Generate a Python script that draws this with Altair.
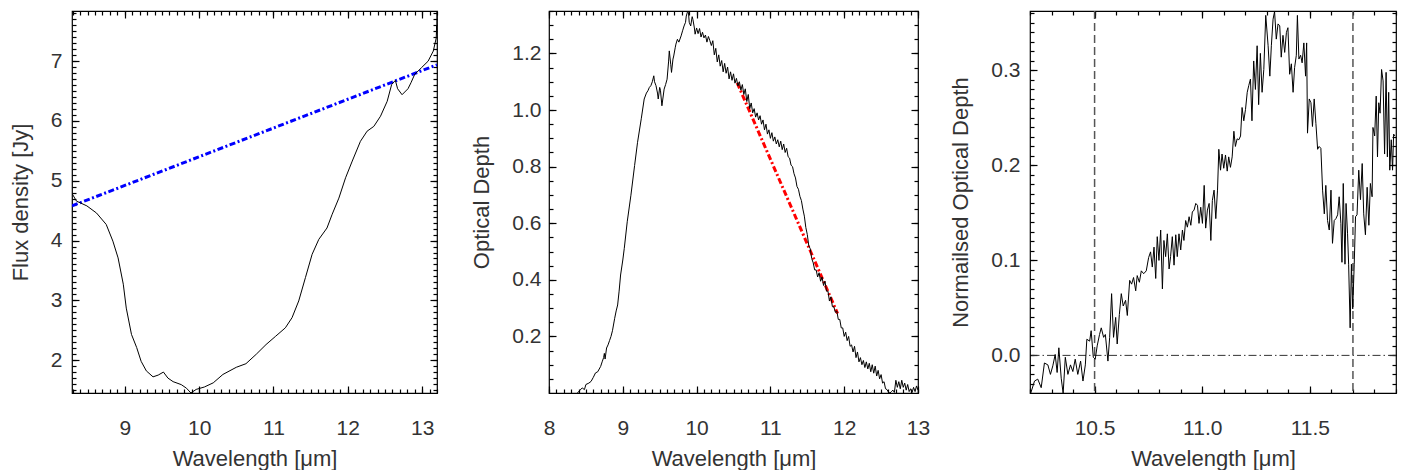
import altair as alt
import pandas as pd
import numpy as np

# ---------------- Panel 1: flux density ----------------
p1_x = [8.28, 8.35, 8.49, 8.62, 8.75, 8.84, 8.91, 8.98, 9.02, 9.09, 9.16, 9.22, 9.29, 9.38,
        9.45, 9.52, 9.58, 9.65, 9.76, 9.83, 9.89, 9.96, 10.07, 10.19, 10.32, 10.50, 10.63,
        10.77, 10.90, 11.03, 11.16, 11.25, 11.34, 11.43, 11.52, 11.61, 11.72, 11.79, 11.88,
        11.97, 12.06, 12.17, 12.26, 12.35, 12.44, 12.53, 12.59, 12.64, 12.67, 12.73, 12.81,
        12.85, 12.90, 12.99, 13.08, 13.15, 13.19, 13.195, 13.198, 13.2]
p1_y = [4.81, 4.66, 4.58, 4.46, 4.27, 3.99, 3.71, 3.27, 2.87, 2.43, 2.21, 1.98, 1.82, 1.72,
        1.75, 1.80, 1.70, 1.64, 1.59, 1.53, 1.45, 1.51, 1.55, 1.62, 1.76, 1.88, 1.94,
        2.10, 2.26, 2.40, 2.54, 2.71, 2.99, 3.38, 3.77, 4.02, 4.21, 4.44, 4.71,
        5.05, 5.33, 5.66, 5.83, 5.91, 6.08, 6.33, 6.61, 6.68, 6.54, 6.44, 6.54,
        6.64, 6.78, 6.89, 7.00, 7.17, 7.39, 7.60, 7.45, 7.84]
cont_x = [8.29, 13.2]
cont_y = [4.58, 6.94]

# ---------------- Panel 2: optical depth ----------------
p2_x = [8.385, 8.42, 8.45, 8.48, 8.50, 8.54, 8.57, 8.60, 8.63, 8.66, 8.70, 8.72, 8.74, 8.75,
        8.76, 8.78, 8.80, 8.82, 8.84, 8.86, 8.89, 8.91, 8.93, 8.95, 8.97, 9.00, 9.02, 9.06,
        9.11, 9.16, 9.20, 9.25, 9.29, 9.32, 9.34, 9.36, 9.38, 9.40, 9.42, 9.43, 9.45, 9.47,
        9.48, 9.50, 9.51, 9.53, 9.56, 9.58, 9.60, 9.62, 9.63, 9.65, 9.66, 9.68, 9.69, 9.71,
        9.72, 9.74, 9.76, 9.79, 9.81, 9.83, 9.85, 9.86, 9.88, 9.89, 9.90, 9.92, 9.94, 9.95,
        9.97, 9.98, 10.00,
        10.02, 10.04, 10.06, 10.08, 10.10, 10.12, 10.14, 10.16, 10.18, 10.20, 10.22, 10.24,
        10.26, 10.28, 10.30, 10.32, 10.34, 10.36, 10.38, 10.40, 10.42, 10.44, 10.46, 10.48,
        10.50, 10.52, 10.54, 10.56, 10.58, 10.60, 10.62, 10.64, 10.66, 10.68, 10.70, 10.72,
        10.74, 10.76, 10.78, 10.80, 10.82, 10.84, 10.86, 10.88, 10.90, 10.92, 10.94, 10.96,
        10.98, 11.00, 11.02, 11.04, 11.06, 11.08, 11.10, 11.12, 11.14, 11.16, 11.18, 11.20,
        11.22, 11.24, 11.26, 11.28, 11.30, 11.32, 11.34, 11.36, 11.38, 11.40, 11.42, 11.44,
        11.46, 11.48, 11.50, 11.52, 11.54, 11.56, 11.58, 11.60, 11.62, 11.64, 11.66, 11.68,
        11.70, 11.72, 11.74, 11.76, 11.78, 11.80, 11.82, 11.84, 11.86, 11.88, 11.90, 11.92,
        11.94, 11.96, 11.98, 12.00, 12.02, 12.04, 12.06, 12.08, 12.10, 12.12, 12.14, 12.16,
        12.18, 12.20, 12.22, 12.24, 12.26, 12.28, 12.30, 12.32, 12.34, 12.36, 12.38, 12.40,
        12.42, 12.44, 12.46, 12.48, 12.50, 12.52, 12.54, 12.56, 12.58, 12.60, 12.62, 12.64,
        12.66, 12.68, 12.70, 12.72, 12.74, 12.76, 12.78, 12.80, 12.82, 12.84, 12.86, 12.88,
        12.90, 12.92, 12.94, 12.96, 12.98, 13.00]
p2_y = [0.0, 0.01, 0.018, 0.012, 0.03, 0.035, 0.041, 0.055, 0.071, 0.075, 0.094, 0.11, 0.125, 0.14,
        0.12, 0.159, 0.17, 0.185, 0.20, 0.22, 0.264, 0.29, 0.311, 0.36, 0.417, 0.47, 0.511, 0.605,
        0.699, 0.804, 0.886, 0.969, 1.039, 1.06, 1.068, 1.08, 1.086, 1.10, 1.121, 1.10, 1.086, 1.06,
        1.039, 1.08, 1.07, 1.015, 1.074, 1.09, 1.109, 1.17, 1.209, 1.16, 1.133, 1.18, 1.191, 1.22,
        1.233, 1.250, 1.24, 1.262, 1.28, 1.297, 1.31, 1.332, 1.35, 1.344, 1.31, 1.297, 1.33, 1.32,
        1.29, 1.268, 1.29,
        1.27, 1.288, 1.258, 1.275, 1.255, 1.265, 1.24, 1.26, 1.245, 1.228, 1.245, 1.195,
        1.218, 1.17, 1.195, 1.155, 1.175, 1.135, 1.165, 1.13, 1.152, 1.11, 1.135, 1.105,
        1.128, 1.095, 1.112, 1.085, 1.1, 1.07, 1.09, 1.055, 1.075, 1.03, 1.055, 1.005,
        1.025, 0.99, 1.005, 0.975, 0.99, 0.965, 0.98, 0.95, 0.965, 0.93, 0.95, 0.915,
        0.93, 0.9, 0.92, 0.89, 0.905, 0.88, 0.895, 0.87, 0.89, 0.86, 0.88, 0.85,
        0.865, 0.835, 0.83, 0.805, 0.8, 0.775, 0.76, 0.73, 0.72, 0.695, 0.68, 0.65,
        0.625, 0.585, 0.56, 0.52, 0.51, 0.475, 0.46, 0.435, 0.435, 0.41, 0.425, 0.395,
        0.41, 0.38, 0.395, 0.36, 0.36, 0.325, 0.34, 0.305, 0.305, 0.285, 0.29, 0.26,
        0.26, 0.23, 0.23, 0.2, 0.215, 0.185, 0.2, 0.165, 0.17, 0.145, 0.165, 0.125,
        0.145, 0.11, 0.125, 0.1, 0.115, 0.09, 0.11, 0.085, 0.105, 0.075, 0.1, 0.07,
        0.095, 0.06, 0.08, 0.05, 0.065, 0.035, 0.04, 0.015, 0.012, 0.003, 0.0, 0.005,
        0.01, 0.002, 0.045, 0.02, 0.04, 0.015, 0.045, 0.02, 0.035, 0.01, 0.03, 0.005,
        0.015, 0.002, 0.02, 0.005, 0.025, 0.01]
fit_x = [10.55, 11.91]
fit_y = [1.096, 0.281]

# ---------------- Panel 3: normalised optical depth ----------------
p3_x = [10.203, 10.221, 10.236, 10.252, 10.267, 10.283, 10.295, 10.306, 10.317, 10.326, 10.334,
        10.345, 10.354, 10.364, 10.376, 10.388, 10.399, 10.410, 10.422, 10.435, 10.446, 10.457,
        10.464, 10.477, 10.484, 10.494, 10.503, 10.512, 10.523, 10.531, 10.542, 10.550, 10.562,
        10.570, 10.579, 10.588, 10.598, 10.605, 10.615, 10.624, 10.633, 10.644, 10.652, 10.663,
        10.672, 10.681, 10.691, 10.698, 10.708, 10.717, 10.728, 10.740, 10.751, 10.760, 10.768,
        10.776, 10.784, 10.791, 10.799, 10.807, 10.815, 10.822, 10.830, 10.838, 10.846, 10.853,
        10.861, 10.869, 10.877, 10.884, 10.892, 10.900, 10.908, 10.915, 10.923, 10.931, 10.939,
        10.947, 10.954, 10.962, 10.970, 10.978, 10.985, 10.993, 11.001, 11.009, 11.016, 11.024,
        11.032, 11.040, 11.047, 11.055, 11.063, 11.071, 11.077, 11.085, 11.092, 11.100, 11.108,
        11.116, 11.123, 11.131, 11.139, 11.147, 11.154, 11.162, 11.170, 11.178, 11.185, 11.193,
        11.201, 11.209, 11.216, 11.224, 11.231, 11.239, 11.247, 11.255, 11.262, 11.270, 11.278,
        11.286, 11.295, 11.306, 11.314, 11.321, 11.329, 11.336, 11.344, 11.352, 11.360, 11.367,
        11.375, 11.383, 11.391, 11.398, 11.406, 11.414, 11.422, 11.429, 11.437, 11.442, 11.449,
        11.457, 11.464, 11.472, 11.480, 11.485, 11.489, 11.497, 11.505, 11.512, 11.520, 11.528,
        11.536, 11.543, 11.551, 11.559, 11.567, 11.574, 11.582, 11.590, 11.598, 11.605, 11.613,
        11.621, 11.629, 11.636, 11.644, 11.649, 11.655, 11.663, 11.668, 11.675, 11.680, 11.687,
        11.693, 11.699, 11.706, 11.712, 11.719, 11.727, 11.735, 11.743, 11.750, 11.758, 11.766,
        11.774, 11.781, 11.789, 11.793, 11.801, 11.808, 11.814, 11.820, 11.826, 11.833, 11.840,
        11.847, 11.854, 11.860, 11.866, 11.871, 11.878, 11.884, 11.889, 11.895]
p3_y = [-0.040, -0.027, -0.025, -0.034, -0.008, -0.010, -0.020, -0.011, 0.001, -0.018, 0.008,
        -0.024, -0.040, -0.002, -0.020, -0.010, -0.017, -0.004, -0.020, -0.006, -0.027, -0.010,
        0.017, 0.015, 0.026, -0.002, -0.004, 0.010, 0.022, 0.029, 0.019, 0.022, -0.006,
        0.019, 0.065, 0.019, 0.040, 0.012, 0.043, 0.065, 0.052, 0.058, 0.042, 0.079,
        0.075, 0.082, 0.068, 0.084, 0.077, 0.089, 0.086, 0.089, 0.103, 0.109, 0.093,
        0.114, 0.081, 0.125, 0.100, 0.132, 0.070, 0.121, 0.104, 0.128, 0.091, 0.104,
        0.125, 0.095, 0.127, 0.104, 0.128, 0.111, 0.132, 0.121, 0.142, 0.135, 0.146,
        0.137, 0.151, 0.153, 0.160, 0.158, 0.139, 0.156, 0.139, 0.179, 0.134, 0.153,
        0.160, 0.121, 0.163, 0.174, 0.144, 0.174, 0.217, 0.195, 0.212, 0.197, 0.211,
        0.194, 0.209, 0.198, 0.209, 0.236, 0.220, 0.228, 0.227, 0.231, 0.261, 0.247,
        0.259, 0.277, 0.284, 0.291, 0.247, 0.310, 0.280, 0.326, 0.264, 0.318, 0.277,
        0.301, 0.358, 0.326, 0.294, 0.326, 0.354, 0.362, 0.333, 0.349, 0.347, 0.314,
        0.337, 0.319, 0.340, 0.345, 0.296, 0.307, 0.277, 0.303, 0.316, 0.358, 0.312,
        0.316, 0.308, 0.329, 0.294, 0.329, 0.234, 0.270, 0.266, 0.241, 0.270, 0.244,
        0.217, 0.220, 0.218, 0.174, 0.149, 0.179, 0.142, 0.132, 0.174, 0.118, 0.142,
        0.144, 0.148, 0.167, 0.139, 0.098, 0.181, 0.096, 0.160, 0.128, 0.096, 0.029,
        0.096, 0.049, 0.096, 0.146, 0.148, 0.195, 0.164, 0.202, 0.149, 0.127, 0.177,
        0.137, 0.181, 0.167, 0.240, 0.231, 0.273, 0.209, 0.266, 0.255, 0.301, 0.289,
        0.212, 0.298, 0.209, 0.277, 0.195, 0.227, 0.195, 0.233, 0.231]
vline_x = [10.5, 11.7]
hline_y = [0.0]

FONT = "Liberation Sans"
TXT = "#333333"
XTITLE = "Wavelength [\u03bcm]"
PH = 382
MAJ = 7
MIN = 4


def ticks_axis(orient, values, size):
    return alt.Axis(orient=orient, values=values, tickSize=size, offset=-size,
                    domain=False, grid=False, labels=False, title=None,
                    tickColor="black", tickWidth=1.2)


def rng(a, b, s):
    n = int(round((b - a) / s))
    return [round(a + i * s, 4) for i in range(n + 1)]


def panel(df, xdom, ydom, xmaj, xmin, ymaj, ymin, xfmt, yfmt, ytitle, width,
          ylabpad, ytitlepad, extras):
    xs = alt.Scale(domain=xdom, nice=False, zero=False)
    ys = alt.Scale(domain=ydom, nice=False, zero=False)
    base = alt.Chart(df)
    main = base.mark_line(color="black", strokeWidth=1, clip=True).encode(
        x=alt.X("x:Q", scale=xs, axis=alt.Axis(
            orient="bottom", values=xmaj, format=xfmt, tickSize=MAJ, offset=-MAJ,
            domain=False, grid=False, labelPadding=24, labelFlush=False,
            labelOverlap=False, title=XTITLE, titlePadding=10,
            tickColor="black", tickWidth=1.2)),
        y=alt.Y("y:Q", scale=ys, axis=alt.Axis(
            orient="left", values=ymaj, format=yfmt, tickSize=MAJ, offset=-MAJ,
            domain=False, grid=False, labelPadding=ylabpad, labelFlush=False,
            labelOverlap=False, title=ytitle, titlePadding=ytitlepad,
            tickColor="black", tickWidth=1.2)),
    )
    g1 = base.mark_line(opacity=0).encode(
        x=alt.X("x:Q", scale=xs, axis=ticks_axis("bottom", xmin, MIN)),
        y=alt.Y("y:Q", scale=ys, axis=ticks_axis("left", ymin, MIN)))
    g2 = base.mark_line(opacity=0).encode(
        x=alt.X("x:Q", scale=xs, axis=ticks_axis("top", xmaj, MAJ)),
        y=alt.Y("y:Q", scale=ys, axis=ticks_axis("right", ymaj, MAJ)))
    g3 = base.mark_line(opacity=0).encode(
        x=alt.X("x:Q", scale=xs, axis=ticks_axis("top", xmin, MIN)),
        y=alt.Y("y:Q", scale=ys, axis=ticks_axis("right", ymin, MIN)))
    return alt.layer(*extras, main, g1, g2, g3).resolve_axis(
        x="independent", y="independent").properties(width=width, height=PH)


df1 = pd.DataFrame({"x": p1_x, "y": p1_y})
dfc = pd.DataFrame({"x": cont_x, "y": cont_y})
cont = alt.Chart(dfc).mark_line(color="#0000ff", strokeWidth=3,
                                strokeDash=[6, 2.5, 2, 2.5], clip=True).encode(
    x=alt.X("x:Q", axis=None), y=alt.Y("y:Q", axis=None))
c1 = panel(df1, [8.29, 13.2], [1.45, 7.84], [9, 10, 11, 12, 13], rng(8.3, 13.2, 0.1),
           [2, 3, 4, 5, 6, 7], rng(1.5, 7.8, 0.1), "d", "d", "Flux density [Jy]", 365,
           10, 18, [cont])

df2 = pd.DataFrame({"x": p2_x, "y": p2_y})
dff = pd.DataFrame({"x": fit_x, "y": fit_y})
fit = alt.Chart(dff).mark_line(color="#ff0000", strokeWidth=3,
                               strokeDash=[6, 2.5, 2, 2.5], clip=True).encode(
    x=alt.X("x:Q", axis=None), y=alt.Y("y:Q", axis=None))
c2 = panel(df2, [8, 13], [0, 1.35], [8, 9, 10, 11, 12, 13], rng(8, 13, 0.1),
           [0.2, 0.4, 0.6, 0.8, 1.0, 1.2], rng(0.05, 1.35, 0.05), "d", ".1f",
           "Optical Depth", 369, 8, 18, [fit])

df3 = pd.DataFrame({"x": p3_x, "y": p3_y})
dfv = pd.DataFrame({"x": vline_x})
dfh = pd.DataFrame({"y": hline_y})
vr = alt.Chart(dfv).mark_rule(color="#555555", strokeWidth=1.5, strokeDash=[8, 4]).encode(
    x=alt.X("x:Q", axis=None))
hr = alt.Chart(dfh).mark_rule(color="#333333", strokeWidth=1, strokeDash=[8, 3, 1.5, 3]).encode(
    y=alt.Y("y:Q", axis=None))
c3 = panel(df3, [10.2, 11.9], [-0.0396, 0.3626], [10.5, 11.0, 11.5], rng(10.2, 11.9, 0.1),
           [0.0, 0.1, 0.2, 0.3], rng(-0.03, 0.36, 0.01), ".1f", ".1f",
           "Normailsed Optical Depth", 366, 10, 18, [vr, hr])

chart = alt.hconcat(c1, c2, c3, spacing=112, bounds="flush").configure_view(
    stroke="black", strokeWidth=1.2
).configure_axis(
    labelFont=FONT, titleFont=FONT, labelFontSize=21, titleFontSize=22,
    labelColor=TXT, titleColor=TXT, titleFontWeight="normal"
).properties(padding={"left": 0, "top": 1, "right": 0, "bottom": 0})

chart.save("out.html", embed_options={"renderer": "svg", "actions": False})
